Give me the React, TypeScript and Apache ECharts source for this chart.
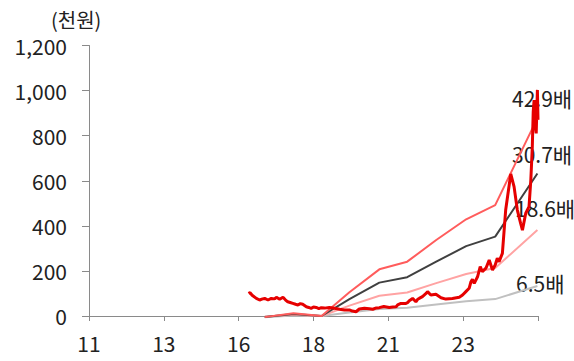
import React, { useEffect, useRef } from "react";
import * as echarts from "echarts";

// Band line dates (decimal years) and values (thousand won)
const bandYears = [2016.87, 2017.83, 2018.77, 2019.7, 2020.7, 2021.63, 2022.6, 2023.6, 2024.57, 2025.98];
const band429 = [-5, 12, 0, 105, 207, 241, 337, 429, 492, 878];
const band307 = [-4, 9, 0, 75, 148, 172, 241, 310, 352, 632];
const band186 = [-2, 5, 0, 46, 90, 104, 146, 186, 213, 381];
const band65 = [-6, 2, 0, 16, 31, 37, 51, 65, 75, 133];

// Share price (thousand won)
const priceYears = [
  2016.33, 2016.38, 2016.45, 2016.59, 2016.7, 2016.8, 2016.87, 2016.98, 2017.09, 2017.2,
  2017.26, 2017.37, 2017.48, 2017.56, 2017.64, 2017.72, 2017.81, 2017.9, 2017.98, 2018.06,
  2018.14, 2018.26, 2018.34, 2018.42, 2018.5, 2018.59, 2018.68, 2018.76, 2018.87, 2019.03,
  2019.2, 2019.37, 2019.53, 2019.7, 2019.8, 2019.92, 2020.03, 2020.2, 2020.37, 2020.48,
  2020.6, 2020.7, 2020.85, 2021.03, 2021.15, 2021.26, 2021.31, 2021.42, 2021.59, 2021.64,
  2021.7, 2021.81, 2021.92, 2021.98, 2022.03, 2022.14, 2022.26, 2022.31, 2022.42, 2022.59,
  2022.76, 2022.92, 2023.14, 2023.37, 2023.48, 2023.59, 2023.7, 2023.76, 2023.81, 2023.87,
  2023.98, 2024.07, 2024.14, 2024.26, 2024.37, 2024.48, 2024.57, 2024.64, 2024.7, 2024.81,
  2024.92, 2025.09, 2025.2, 2025.31, 2025.42, 2025.48, 2025.59, 2025.7, 2025.76, 2025.81,
  2025.84, 2025.87, 2025.9, 2025.94, 2025.98, 2026.0,
];
const priceValues = [
  100, 104, 92, 78, 71, 76, 78, 71, 78, 76,
  83, 74, 83, 72, 63, 60, 56, 52, 49, 55,
  52, 41, 38, 34, 40, 38, 33, 37, 35, 38,
  34, 30, 27, 27, 22, 19, 31, 34, 32, 30,
  36, 37, 42, 38, 40, 41, 49, 56, 56, 59,
  68, 78, 63, 74, 78, 86, 100, 108, 93, 96,
  81, 75, 78, 83, 93, 108, 123, 152, 163, 145,
  174, 219, 197, 212, 248, 204, 226, 256, 241, 278,
  470, 630, 574, 470, 411, 381, 456, 485, 603, 751,
  906, 958, 855, 810, 1003, 870,
];

const bandLabels = ["42.9배", "30.7배", "18.6배", "6.5배"];
const unitLabel = "(천원)";

const FONT = "'Noto Sans CJK KR', 'Noto Sans', sans-serif";

const zip = (xs: number[], ys: number[]) => xs.map((x, i) => [x, ys[i]]);

export default function App() {
  const ref = useRef<HTMLDivElement>(null);
  useEffect(() => {
    if (!ref.current) return;
    document.body.style.margin = "0";
    const chart = echarts.init(ref.current, null, { renderer: "svg" });
    const bandSeries = (data: number[], color: string, width: number) => ({
      type: "line",
      data: zip(bandYears, data),
      showSymbol: false,
      symbol: "none",
      clip: false,
      lineStyle: { color, width },
      z: 2,
    });
    chart.setOption({
      animation: false,
      grid: { left: 89, right: 36, top: 45.5, bottom: 45 },
      xAxis: {
        type: "value",
        min: 2011,
        max: 2026,
        interval: 2.5,
        splitLine: { show: false },
        axisLine: { lineStyle: { color: "#8a8a8a", width: 1 } },
        axisTick: { show: true, length: 5, lineStyle: { color: "#8a8a8a" } },
        axisLabel: {
          color: "#222",
          fontSize: 21,
          fontFamily: FONT,
          margin: 16,
          formatter: (v: number) => (v > 2025 ? "" : String(Math.floor(v) % 100)),
        },
      },
      yAxis: {
        type: "value",
        min: 0,
        max: 1200,
        interval: 200,
        splitLine: { show: false },
        axisLine: { show: true, lineStyle: { color: "#8a8a8a", width: 1 } },
        axisTick: { show: true, length: 7, lineStyle: { color: "#8a8a8a" } },
        axisLabel: {
          color: "#222",
          fontSize: 21,
          fontFamily: FONT,
          margin: 22,
          formatter: (v: number) => v.toLocaleString("en-US"),
        },
      },
      graphic: [
        { type: "text", left: 51, top: 9, z: 0, style: { text: unitLabel, fontSize: 20, fontFamily: FONT, fill: "#222" } },
        { type: "text", x: 512, y: 98, z: 0, style: { text: bandLabels[0], fontSize: 21, fontFamily: FONT, fill: "#222", verticalAlign: "middle" } },
        { type: "text", x: 512, y: 154, z: 0, style: { text: bandLabels[1], fontSize: 21, fontFamily: FONT, fill: "#222", verticalAlign: "middle" } },
        { type: "text", x: 515, y: 208, z: 0, style: { text: bandLabels[2], fontSize: 21, fontFamily: FONT, fill: "#222", verticalAlign: "middle" } },
        { type: "text", x: 516, y: 283, z: 0, style: { text: bandLabels[3], fontSize: 21, fontFamily: FONT, fill: "#222", verticalAlign: "middle" } },
      ],
      series: [
        bandSeries(band65, "#c0c0c0", 2),
        bandSeries(band186, "#ffa3a3", 2),
        bandSeries(band307, "#404040", 2),
        bandSeries(band429, "#ff5c5c", 2),
        {
          type: "line",
          data: zip(priceYears, priceValues),
          showSymbol: false,
          symbol: "none",
          clip: false,
          lineStyle: { color: "#e60000", width: 3 },
          z: 3,
        },
      ],
    });
    return () => chart.dispose();
  }, []);
  return <div ref={ref} style={{ width: 574, height: 361 }} />;
}
